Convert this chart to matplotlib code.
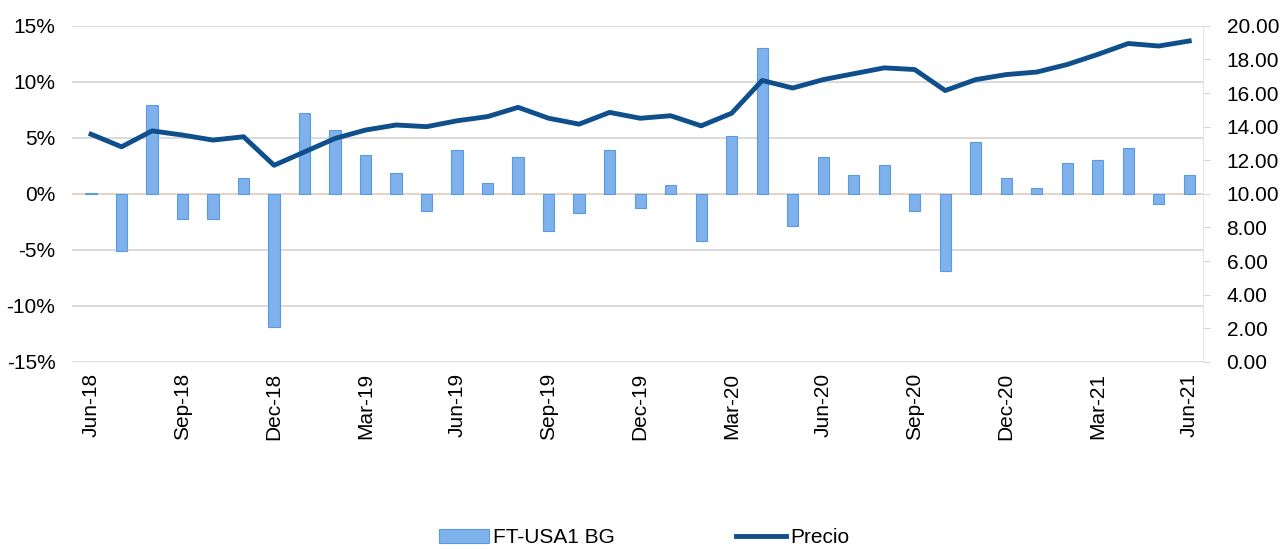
import numpy as np
import matplotlib.pyplot as plt
from matplotlib.ticker import FuncFormatter

plt.rcParams['font.family'] = ['Liberation Sans', 'DejaVu Sans']

# monthly data Jun-18 .. Jun-21
months = ["Jun-18", "Jul-18", "Aug-18", "Sep-18", "Oct-18", "Nov-18", "Dec-18",
          "Jan-19", "Feb-19", "Mar-19", "Apr-19", "May-19", "Jun-19", "Jul-19",
          "Aug-19", "Sep-19", "Oct-19", "Nov-19", "Dec-19", "Jan-20", "Feb-20",
          "Mar-20", "Apr-20", "May-20", "Jun-20", "Jul-20", "Aug-20", "Sep-20",
          "Oct-20", "Nov-20", "Dec-20", "Jan-21", "Feb-21", "Mar-21", "Apr-21",
          "May-21", "Jun-21"]

# monthly return FT-USA1 BG (%)
returns = [0.1, -5.1, 7.9, -2.2, -2.2, 1.4, -11.9,
           7.2, 5.7, 3.5, 1.9, -1.5, 3.9, 1.0,
           3.3, -3.3, -1.7, 3.9, -1.3, 0.8, -4.2,
           5.2, 13.0, -2.9, 3.3, 1.7, 2.6, -1.5,
           -6.9, 4.6, 1.4, 0.5, 2.8, 3.0, 4.1,
           -0.9, 1.7]

# price (right axis)
precio = [13.55, 12.8, 13.75, 13.5, 13.2, 13.4, 11.7,
          12.5, 13.3, 13.8, 14.1, 14.0, 14.35, 14.6,
          15.15, 14.5, 14.15, 14.85, 14.5, 14.65, 14.05,
          14.8, 16.75, 16.3, 16.8, 17.15, 17.5, 17.4,
          16.15, 16.8, 17.1, 17.25, 17.7, 18.3, 18.95,
          18.8, 19.1]

x = np.arange(len(months))

fig = plt.figure(figsize=(12.88, 5.5), dpi=100)
ax = fig.add_axes([0.056, 0.342, 0.878, 0.611])
ax2 = ax.twinx()

bars = ax.bar(x, returns, width=0.37, color='#7fb2ec', edgecolor='#5a9ae0',
              linewidth=0.8, label='FT-USA1 BG', zorder=2)
ax.axhline(0, color='#f2c9a0', linestyle=':', linewidth=1.2, zorder=1)

ax.set_ylim(-15, 15)
ax.set_yticks(np.arange(-15, 16, 5))
ax.yaxis.set_major_formatter(FuncFormatter(lambda v, p: f"{v:.0f}%"))
ax.grid(axis='y', color='#d4d4d4', linewidth=1.2, zorder=0)
ax.set_axisbelow(True)

line, = ax2.plot(x, precio, color='#0f4f8c', linewidth=3.5, label='Precio',
                 solid_joinstyle='round', zorder=3)
ax2.set_ylim(0, 20)
ax2.set_yticks(np.arange(0, 21, 2))
ax2.yaxis.set_major_formatter(FuncFormatter(lambda v, p: f"{v:.2f}"))

ax.set_xlim(-0.62, 36.45)
ax.set_xticks(x[::3])
ax.set_xticklabels(months[::3], rotation=90, fontsize=15)
ax.tick_params(axis='x', length=0, pad=8)
ax.tick_params(axis='y', length=0, labelsize=15, pad=12)
ax2.tick_params(axis='y', length=5, color='#d4d4d4', labelsize=15, pad=12)

for a in (ax, ax2):
    for s in a.spines.values():
        s.set_visible(False)
ax2.spines['right'].set_visible(True)
ax2.spines['right'].set_color('#e6e6e6')

fig.legend([bars, line], ['FT-USA1 BG', 'Precio'], loc='center', ncol=2,
           bbox_to_anchor=(0.5, 0.022), frameon=False, fontsize=15,
           columnspacing=5.8, handlelength=2.4, handletextpad=0.2)

fig.savefig('out.png', dpi=100)
